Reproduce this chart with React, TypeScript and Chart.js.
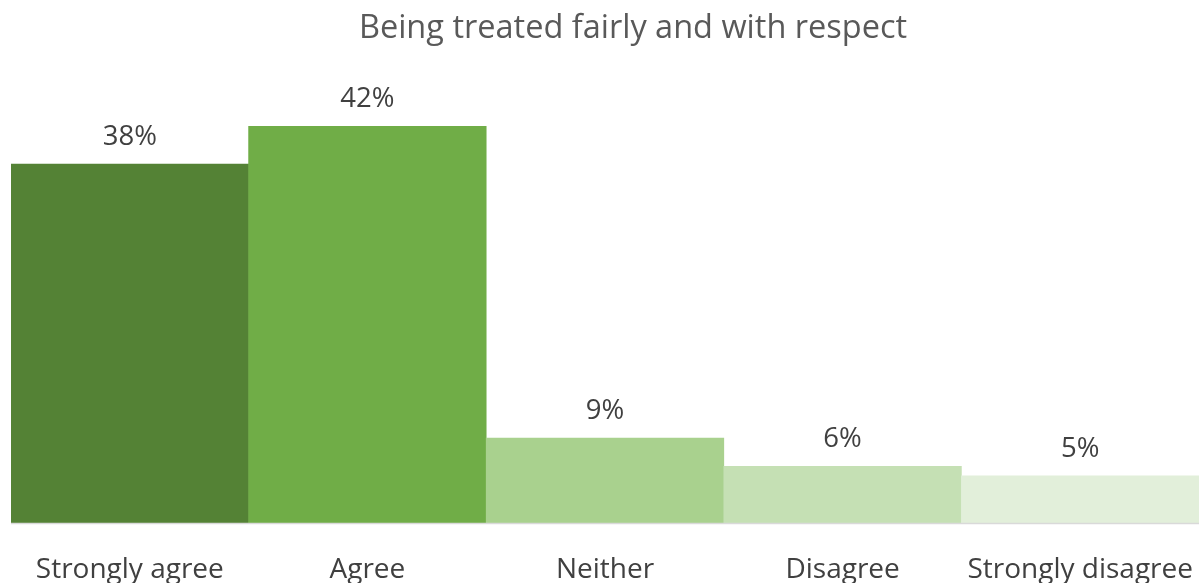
import React, { useEffect, useRef } from "react";
import { Chart, registerables } from "chart.js";

Chart.register(...registerables);

const categories = ["Strongly agree", "Agree", "Neither", "Disagree", "Strongly disagree"];
const values = [38, 42, 9, 6, 5];
const valueLabels = ["38%", "42%", "9%", "6%", "5%"];
const barColors = ["#548235", "#70AD47", "#A9D18E", "#C5E0B4", "#E2EFDA"];
const titleText = "Being treated fairly and with respect";
const FONT = "'Open Sans', sans-serif";

const overlay = {
  id: "overlay",
  afterDatasetsDraw(chart: any) {
    const { ctx, chartArea } = chart;
    const meta = chart.getDatasetMeta(0);
    ctx.save();
    // baseline
    ctx.strokeStyle = "#D9D9D9";
    ctx.lineWidth = 1.5;
    ctx.beginPath();
    ctx.moveTo(chartArea.left, chartArea.bottom + 0.5);
    ctx.lineTo(chartArea.right, chartArea.bottom + 0.5);
    ctx.stroke();
    // value labels
    ctx.font = `27.5px ${FONT}`;
    ctx.fillStyle = "#404040";
    ctx.textAlign = "center";
    ctx.textBaseline = "alphabetic";
    meta.data.forEach((bar: any, i: number) => {
      ctx.fillText(valueLabels[i], bar.x, bar.y - 19);
    });
    // category labels
    ctx.font = `28px ${FONT}`;
    ctx.fillStyle = "#404040";
    meta.data.forEach((bar: any, i: number) => {
      ctx.fillText(categories[i], bar.x, 578);
    });
    // title
    ctx.font = `32.5px ${FONT}`;
    ctx.fillStyle = "#595959";
    ctx.fillText(titleText, 633, 38);
    ctx.restore();
  },
};

export default function App() {
  const ref = useRef<HTMLCanvasElement | null>(null);
  useEffect(() => {
    if (!ref.current) return;
    const chart = new Chart(ref.current, {
      type: "bar",
      data: {
        labels: categories,
        datasets: [
          {
            data: values,
            backgroundColor: barColors,
            borderWidth: 0,
            categoryPercentage: 1,
            barPercentage: 1,
          },
        ],
      },
      options: {
        animation: false,
        responsive: false,
        maintainAspectRatio: false,
        layout: { padding: { left: 11, right: 0, top: 98, bottom: 60 } },
        plugins: { legend: { display: false }, tooltip: { enabled: false }, title: { display: false } },
        scales: {
          x: { display: false },
          y: { display: false, min: 0, max: 45 },
        },
      },
      plugins: [overlay],
    });
    return () => chart.destroy();
  }, []);
  return (
    <div style={{ position: "absolute", left: 0, top: 0, width: 1199, height: 583, background: "#fff" }}>
      <canvas ref={ref} width={1199} height={583} style={{ display: "block" }} />
    </div>
  );
}
